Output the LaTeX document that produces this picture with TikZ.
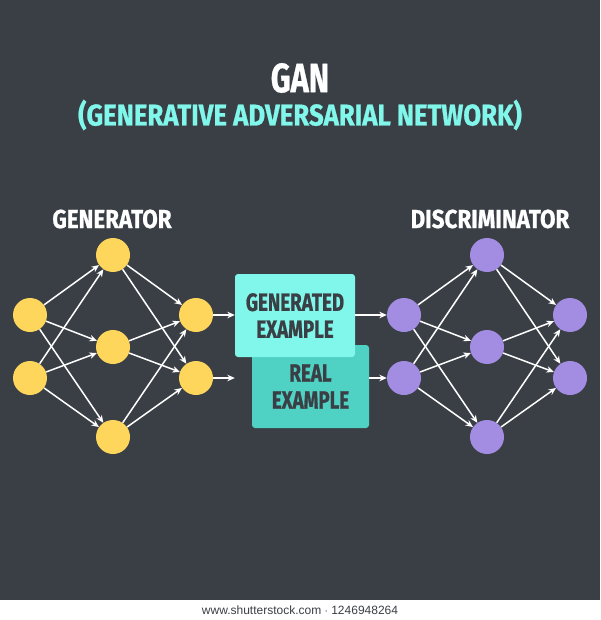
\documentclass[tikz,border=0pt]{standalone}
\usepackage{fontspec}
\setmainfont{Fira Sans}
\newfontfamily\titlefont[FakeStretch=0.75,FakeBold=0.8]{Fira Sans}
\newfontfamily\headfont[FakeStretch=0.86,FakeBold=0.8]{Fira Sans}
\newfontfamily\boxfont[FakeStretch=0.75,FakeBold=0.8]{Fira Sans}
\newfontfamily\creditfont{Liberation Sans}
\usetikzlibrary{arrows.meta,positioning}
\definecolor{cBack}{HTML}{3A3F46}
\definecolor{cGen}{HTML}{FDD65B}
\definecolor{cDis}{HTML}{A28DE3}
\definecolor{cFake}{HTML}{80F7EA}
\definecolor{cReal}{HTML}{4FD1C3}
\definecolor{cInk}{HTML}{3A3F45}
\tikzset{
  neuron/.style  = {circle, inner sep=0pt, minimum size=34pt},
  genn/.style    = {neuron, fill=cGen},
  disn/.style    = {neuron, fill=cDis},
  sample/.style  = {rounded corners=3pt, align=center, text=cInk, inner sep=0pt,
                    minimum height=83pt,
                    font=\boxfont\bfseries\fontsize{25}{27}\selectfont},
  head/.style    = {text=white, font=\headfont\bfseries\fontsize{26}{28}\selectfont},
  flow/.style    = {-{Stealth[length=7.5pt,width=6.5pt]}, draw=white, line width=1.5pt},
}

\begin{document}
\begin{tikzpicture}[x=1pt, y=-1pt]
  \useasboundingbox (0,0) rectangle (600,620);
  \fill[cBack] (0,0) rectangle (600,600);
  \fill[white] (0,600) rectangle (600,620);
  % titles
  \node[text=white, font=\titlefont\bfseries\fontsize{41}{43}\selectfont] (gan) at (300,78) {GAN};
  \node[text=cFake, font=\headfont\bfseries\fontsize{30}{32}\selectfont] (full) at (300,115)
    {(GENERATIVE ADVERSARIAL NETWORK)};
  \node[head] (gtitle) at (112,219) {GENERATOR};
  \node[head] (dtitle) at (490,219) {DISCRIMINATOR};
  % generator
  \node[genn] (gI1) at (30,315) {};
  \node[genn] (gI2) at (30,378) {};
  \node[genn] (gH1) at (113,255) {};
  \node[genn] (gH2) at (113,347) {};
  \node[genn] (gH3) at (113,437) {};
  \node[genn] (gO1) at (196,315) {};
  \node[genn] (gO2) at (196,378) {};
  % examples
  \node[sample, fill=cReal, minimum width=117pt] (real) at (310.5,386.5)
    {REAL\\ EXAMPLE};
  \node[sample, fill=cFake, minimum width=120pt] (fake) at (295,315.5)
    {GENERATED\\ EXAMPLE};
  % discriminator
  \node[disn] (dI1) at (404,315) {};
  \node[disn] (dI2) at (404,378) {};
  \node[disn] (dH1) at (487,255) {};
  \node[disn] (dH2) at (487,347) {};
  \node[disn] (dH3) at (487,437) {};
  \node[disn] (dO1) at (570,315) {};
  \node[disn] (dO2) at (570,378) {};
  % generator links
  \draw[flow] (gI1) -- (gH1); \draw[flow] (gI1) -- (gH2); \draw[flow] (gI1) -- (gH3);
  \draw[flow] (gI2) -- (gH1); \draw[flow] (gI2) -- (gH2); \draw[flow] (gI2) -- (gH3);
  \draw[flow] (gH1) -- (gO1); \draw[flow] (gH2) -- (gO1); \draw[flow] (gH3) -- (gO1);
  \draw[flow] (gH1) -- (gO2); \draw[flow] (gH2) -- (gO2); \draw[flow] (gH3) -- (gO2);
  % into and out of the examples
  \draw[flow] (gO1) -- (gO1 -| fake.west);
  \draw[flow] (gO2) -- (gO2 -| fake.west);
  \draw[flow] (fake.east |- dI1) -- (dI1);
  \draw[flow] (real.east |- dI2) -- (dI2);
  % discriminator links
  \draw[flow] (dI1) -- (dH1); \draw[flow] (dI1) -- (dH2); \draw[flow] (dI1) -- (dH3);
  \draw[flow] (dI2) -- (dH1); \draw[flow] (dI2) -- (dH2); \draw[flow] (dI2) -- (dH3);
  \draw[flow] (dH1) -- (dO1); \draw[flow] (dH2) -- (dO1); \draw[flow] (dH3) -- (dO1);
  \draw[flow] (dH1) -- (dO2); \draw[flow] (dH2) -- (dO2); \draw[flow] (dH3) -- (dO2);
  % credit line
  \node[text=cInk, font=\creditfont\fontsize{12}{14}\selectfont] (credit) at (300,610)
    {www.shutterstock.com $\cdot$ 1246948264};
\end{tikzpicture}
\end{document}
